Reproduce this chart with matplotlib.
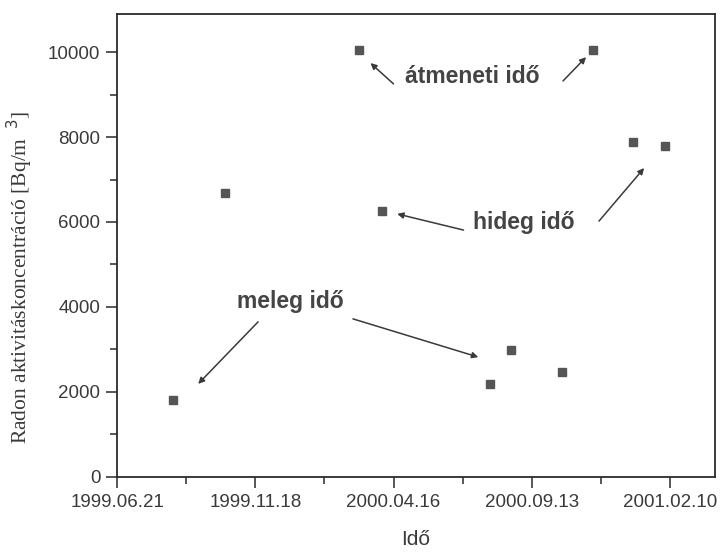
"""Radon activity concentration vs. time, with season annotations."""
from datetime import datetime

import matplotlib

matplotlib.use("Agg")
import matplotlib.dates as mdates
import matplotlib.pyplot as plt
from matplotlib.ticker import AutoMinorLocator, FixedLocator

# measurement dates and radon concentrations (Bq/m3)
dates = ["1999.08.21", "1999.10.16", "2000.03.09", "2000.04.03", "2000.07.30",
         "2000.08.21", "2000.10.16", "2000.11.19", "2001.01.01", "2001.02.05"]
radon = [1800, 6680, 10050, 6250, 2190, 2990, 2470, 10050, 7880, 7790]

tick_labels = ["1999.06.21", "1999.11.18", "2000.04.16", "2000.09.13", "2001.02.10"]
y_ticks = [0, 2000, 4000, 6000, 8000, 10000]

# annotation texts: label, text position, list of (arrow tail, arrow head)
# positions as (date, value)
notes = [
    ("átmeneti idő", ("2000.07.11", 9430),
     [(("2000.04.16", 9250), ("2000.03.22", 9740)),
      (("2000.10.17", 9320), ("2000.11.11", 9880))]),
    ("hideg idő", ("2000.09.04", 5980),
     [(("2000.07.01", 5810), ("2000.04.20", 6190)),
      (("2000.11.25", 6020), ("2001.01.13", 7270))]),
    ("meleg idő", ("1999.12.26", 4140),
     [(("1999.11.21", 3650), ("1999.09.17", 2190)),
      (("2000.03.03", 3720), ("2000.07.17", 2820))]),
]

INK = "#3a3a3a"


def d(s):
    return mdates.date2num(datetime.strptime(s, "%Y.%m.%d"))


plt.rcParams["font.family"] = ["Liberation Sans", "DejaVu Sans"]

fig = plt.figure(figsize=(7.23, 5.52), dpi=100)
ax = fig.add_axes([0.162, 0.136, 0.827, 0.839])

ax.plot([d(s) for s in dates], radon, ls="none", marker="s", ms=6,
        color="#555555", mec="#555555")

for text, (tx, ty), arrows in notes:
    ax.text(d(tx), ty, text, ha="center", va="center", fontsize=16.5,
            fontweight="bold", color="#444444")
    for (x0, y0), (x1, y1) in arrows:
        ax.annotate("", xy=(d(x1), y1), xytext=(d(x0), y0),
                    arrowprops=dict(arrowstyle="-|>", color=INK, lw=1.1,
                                    mutation_scale=9, shrinkA=0, shrinkB=0))

xmin = d("1999.06.21")
xmax = d("2001.02.10") + 49
ax.set_xlim(xmin, xmax)
ax.set_ylim(0, 10900)

ax.xaxis.set_major_locator(FixedLocator([d(s) for s in tick_labels]))
ax.set_xticklabels(tick_labels)
minor_x = [d(s) + 75 for s in tick_labels]
ax.xaxis.set_minor_locator(FixedLocator(minor_x))
ax.set_yticks(y_ticks)
ax.yaxis.set_minor_locator(AutoMinorLocator(2))

ax.tick_params(which="major", direction="out", length=8, width=1.2,
               labelsize=13.5, colors=INK, pad=4)
ax.tick_params(which="minor", direction="out", length=5, width=1.2, colors=INK)
for sp in ax.spines.values():
    sp.set_color("#2a2a2a")
    sp.set_linewidth(1.3)

ax.set_xlabel("Idő", fontsize=15, color=INK, labelpad=14)
ax.set_ylabel("Radon aktivitáskoncentráció [Bq/m$^{\\ \\ 3}$]", fontsize=15.5,
              family="Liberation Serif", color=INK)
ax.yaxis.set_label_coords(-0.138, 0.43)

fig.savefig("out.png", dpi=100)
